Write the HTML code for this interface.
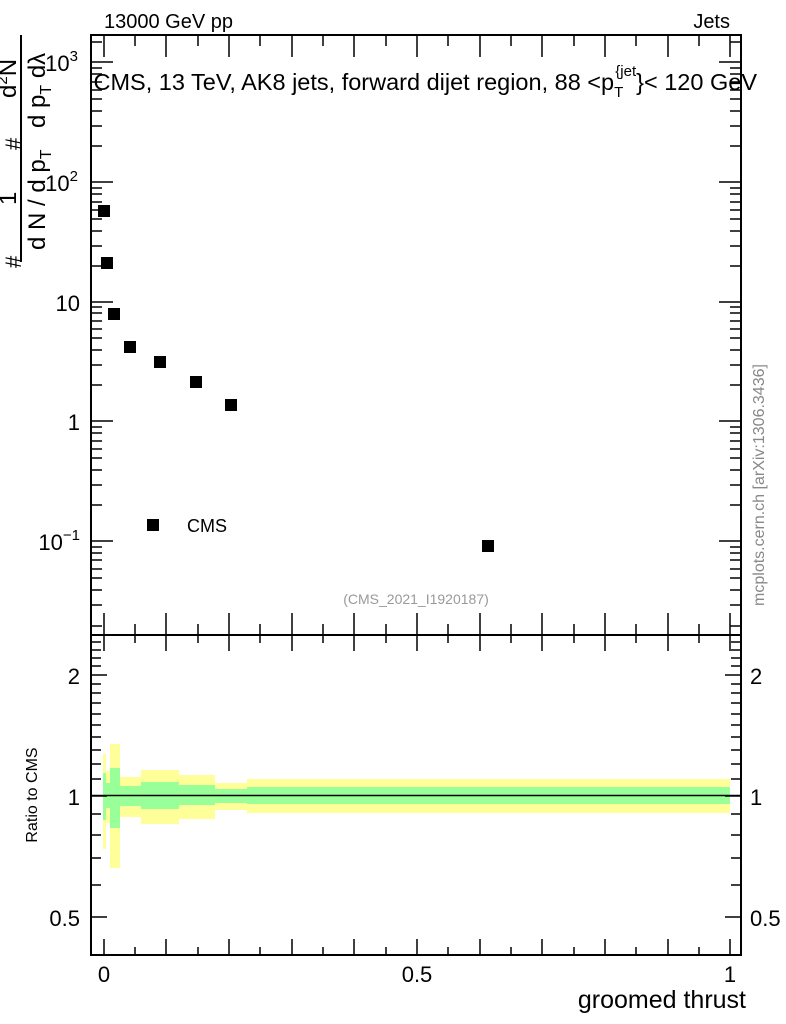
<!DOCTYPE html>
<html><head><meta charset="utf-8"><style>
html,body{margin:0;padding:0;background:#fff;}
svg{display:block;font-family:"Liberation Sans",sans-serif;}
</style></head><body>
<svg width="786" height="1024" viewBox="0 0 786 1024" xmlns="http://www.w3.org/2000/svg">
<rect width="786" height="1024" fill="#fff"/>
<g>
<rect x="103" y="754" width="3" height="95" fill="#ffff99"/>
<rect x="103" y="773" width="3" height="47" fill="#99ff99"/>
<rect x="106" y="771" width="4" height="52" fill="#ffff99"/>
<rect x="106" y="783" width="4" height="25" fill="#99ff99"/>
<rect x="110" y="744" width="10" height="124" fill="#ffff99"/>
<rect x="110" y="768" width="10" height="60" fill="#99ff99"/>
<rect x="120" y="777" width="21" height="40" fill="#ffff99"/>
<rect x="120" y="786" width="21" height="20" fill="#99ff99"/>
<rect x="141" y="770" width="38" height="54" fill="#ffff99"/>
<rect x="141" y="782" width="38" height="27" fill="#99ff99"/>
<rect x="179" y="775" width="36" height="44" fill="#ffff99"/>
<rect x="179" y="785" width="36" height="20" fill="#99ff99"/>
<rect x="215" y="783" width="32" height="27" fill="#ffff99"/>
<rect x="215" y="789" width="32" height="14" fill="#99ff99"/>
<rect x="247" y="779" width="483" height="34" fill="#ffff99"/>
<rect x="247" y="787" width="483" height="17" fill="#99ff99"/>
</g>
<line x1="91" y1="795.5" x2="741" y2="795.5" stroke="#000" stroke-width="1.5"/>
<rect x="91" y="35" width="650" height="600" fill="none" stroke="#000" stroke-width="2"/>
<rect x="91" y="635" width="650" height="320" fill="none" stroke="#000" stroke-width="2"/>
<g stroke="#000" stroke-width="1.5">
<path d="M104 35v22M135 35v11M166 35v22M198 35v11M229 35v22M260 35v11M292 35v22M323 35v11M354 35v22M386 35v11M417 35v22M448 35v11M480 35v22M511 35v11M542 35v22M574 35v11M605 35v22M636 35v11M668 35v22M699 35v11M730 35v22
M104 635v-22M135 635v-11M166 635v-22M198 635v-11M229 635v-22M260 635v-11M292 635v-22M323 635v-11M354 635v-22M386 635v-11M417 635v-22M448 635v-11M480 635v-22M511 635v-11M542 635v-22M574 635v-11M605 635v-22M636 635v-11M668 635v-22M699 635v-11M730 635v-22
M104 635v16M135 635v8M166 635v16M198 635v8M229 635v16M260 635v8M292 635v16M323 635v8M354 635v16M386 635v8M417 635v16M448 635v8M480 635v16M511 635v8M542 635v16M574 635v8M605 635v16M636 635v8M668 635v16M699 635v8M730 635v16
M104 955v-16M135 955v-8M166 955v-16M198 955v-8M229 955v-16M260 955v-8M292 955v-16M323 955v-8M354 955v-16M386 955v-8M417 955v-16M448 955v-8M480 955v-16M511 955v-8M542 955v-16M574 955v-8M605 955v-16M636 955v-8M668 955v-16M699 955v-8M730 955v-16"/>
<path d="M91 62h22M91 182h22M91 302h22M91 421h22M91 541h22
M741 62h-22M741 182h-22M741 302h-22M741 421h-22M741 541h-22
M91 626h11M91 605h11M91 590h11M91 578h11M91 569h11M91 560h11M91 553h11M91 547h11
M91 505h11M91 485h11M91 470h11M91 458h11M91 449h11M91 441h11M91 433h11M91 427h11
M91 385h11M91 365h11M91 350h11M91 338h11M91 329h11M91 321h11M91 313h11M91 307h11
M91 266h11M91 246h11M91 231h11M91 219h11M91 210h11M91 202h11M91 194h11M91 188h11
M91 146h11M91 126h11M91 111h11M91 99h11M91 90h11M91 82h11M91 74h11M91 68h11
M91 42h11
M741 626h-11M741 605h-11M741 590h-11M741 578h-11M741 569h-11M741 560h-11M741 553h-11M741 547h-11
M741 505h-11M741 485h-11M741 470h-11M741 458h-11M741 449h-11M741 441h-11M741 433h-11M741 427h-11
M741 385h-11M741 365h-11M741 350h-11M741 338h-11M741 329h-11M741 321h-11M741 313h-11M741 307h-11
M741 266h-11M741 246h-11M741 231h-11M741 219h-11M741 210h-11M741 202h-11M741 194h-11M741 188h-11
M741 146h-11M741 126h-11M741 111h-11M741 99h-11M741 90h-11M741 82h-11M741 74h-11M741 68h-11
M741 42h-11"/>
<path d="M91 675h16M91 796h16M91 917h16M741 675h-16M741 796h-16M741 917h-16
M91 885h10M91 858h10M91 835h10M91 814h10M91 779h10M91 764h10M91 750h10M91 737h10M91 725h10M91 714h10M91 703h10M91 693h10M91 684h10M91 666h10M91 658h10M91 650h10M91 642h10
M741 885h-10M741 858h-10M741 835h-10M741 814h-10M741 779h-10M741 764h-10M741 750h-10M741 737h-10M741 725h-10M741 714h-10M741 703h-10M741 693h-10M741 684h-10M741 666h-10M741 658h-10M741 650h-10M741 642h-10"/>
</g>
<g fill="#000">
<rect x="98" y="205" width="12" height="12"/>
<rect x="101" y="257" width="12" height="12"/>
<rect x="108" y="308" width="12" height="12"/>
<rect x="124" y="341" width="12" height="12"/>
<rect x="154" y="356" width="12" height="12"/>
<rect x="190" y="376" width="12" height="12"/>
<rect x="225" y="399" width="12" height="12"/>
<rect x="482" y="540" width="12" height="12"/>
<rect x="147" y="519" width="12" height="12"/>
</g>
<g font-size="20" fill="#000">
<text x="104" y="28">13000 GeV pp</text>
<text x="730" y="28" text-anchor="end">Jets</text>
<g font-size="22">
<text x="78" y="71" text-anchor="end">10<tspan font-size="15" dy="-10">3</tspan></text>
<text x="78" y="191" text-anchor="end">10<tspan font-size="15" dy="-10">2</tspan></text>
<text x="80" y="311" text-anchor="end">10</text>
<text x="80" y="430" text-anchor="end">1</text>
<text x="80" y="550" text-anchor="end">10<tspan font-size="15" dy="-10">−1</tspan></text>
<text x="80" y="684" text-anchor="end">2</text>
<text x="80" y="805" text-anchor="end">1</text>
<text x="80" y="926" text-anchor="end">0.5</text>
<text x="750" y="684">2</text>
<text x="750" y="805">1</text>
<text x="750" y="926">0.5</text>
<text x="104" y="982" text-anchor="middle">0</text>
<text x="417" y="982" text-anchor="middle">0.5</text>
<text x="730" y="982" text-anchor="middle">1</text>
</g>
<text x="746" y="1008" text-anchor="end" font-size="25">groomed thrust</text>
<text x="757" y="90" text-anchor="end" font-size="23.5">CMS, 13 TeV, AK8 jets, forward dijet region, 88 &lt;p<tspan font-size="15" dy="7">T</tspan><tspan font-size="15" dy="-21" dx="-8">{jet</tspan><tspan dy="14">}&lt; 120 GeV</tspan></text>
<text x="187" y="532" font-size="18">CMS</text>
</g>
<text x="416" y="604" font-size="14" fill="#999" text-anchor="middle">(CMS_2021_I1920187)</text>
<text transform="translate(764,485) rotate(-90)" font-size="16" fill="#888" text-anchor="middle">mcplots.cern.ch [arXiv:1306.3436]</text>
<text transform="translate(37,795) rotate(-90)" font-size="16" text-anchor="middle">Ratio to CMS</text>
<line x1="21" y1="35" x2="21" y2="262" stroke="#000" stroke-width="2"/>
<g font-size="24" fill="#000">
<text transform="translate(21,268) rotate(-90)" font-size="22">#</text>
<text transform="translate(16,205) rotate(-90)">1</text>
<text transform="translate(45,250) rotate(-90)">d N / d p<tspan font-size="16" dy="6">T</tspan></text>
<text transform="translate(21,150) rotate(-90)" font-size="22">#</text>
<text transform="translate(16,98) rotate(-90)">d<tspan font-size="15" dy="-9">2</tspan><tspan dy="9">N</tspan></text>
<text transform="translate(45,128) rotate(-90)">d p<tspan font-size="16" dy="6">T</tspan><tspan dy="-6"> dλ</tspan></text>
</g>
</svg>
</body></html>
